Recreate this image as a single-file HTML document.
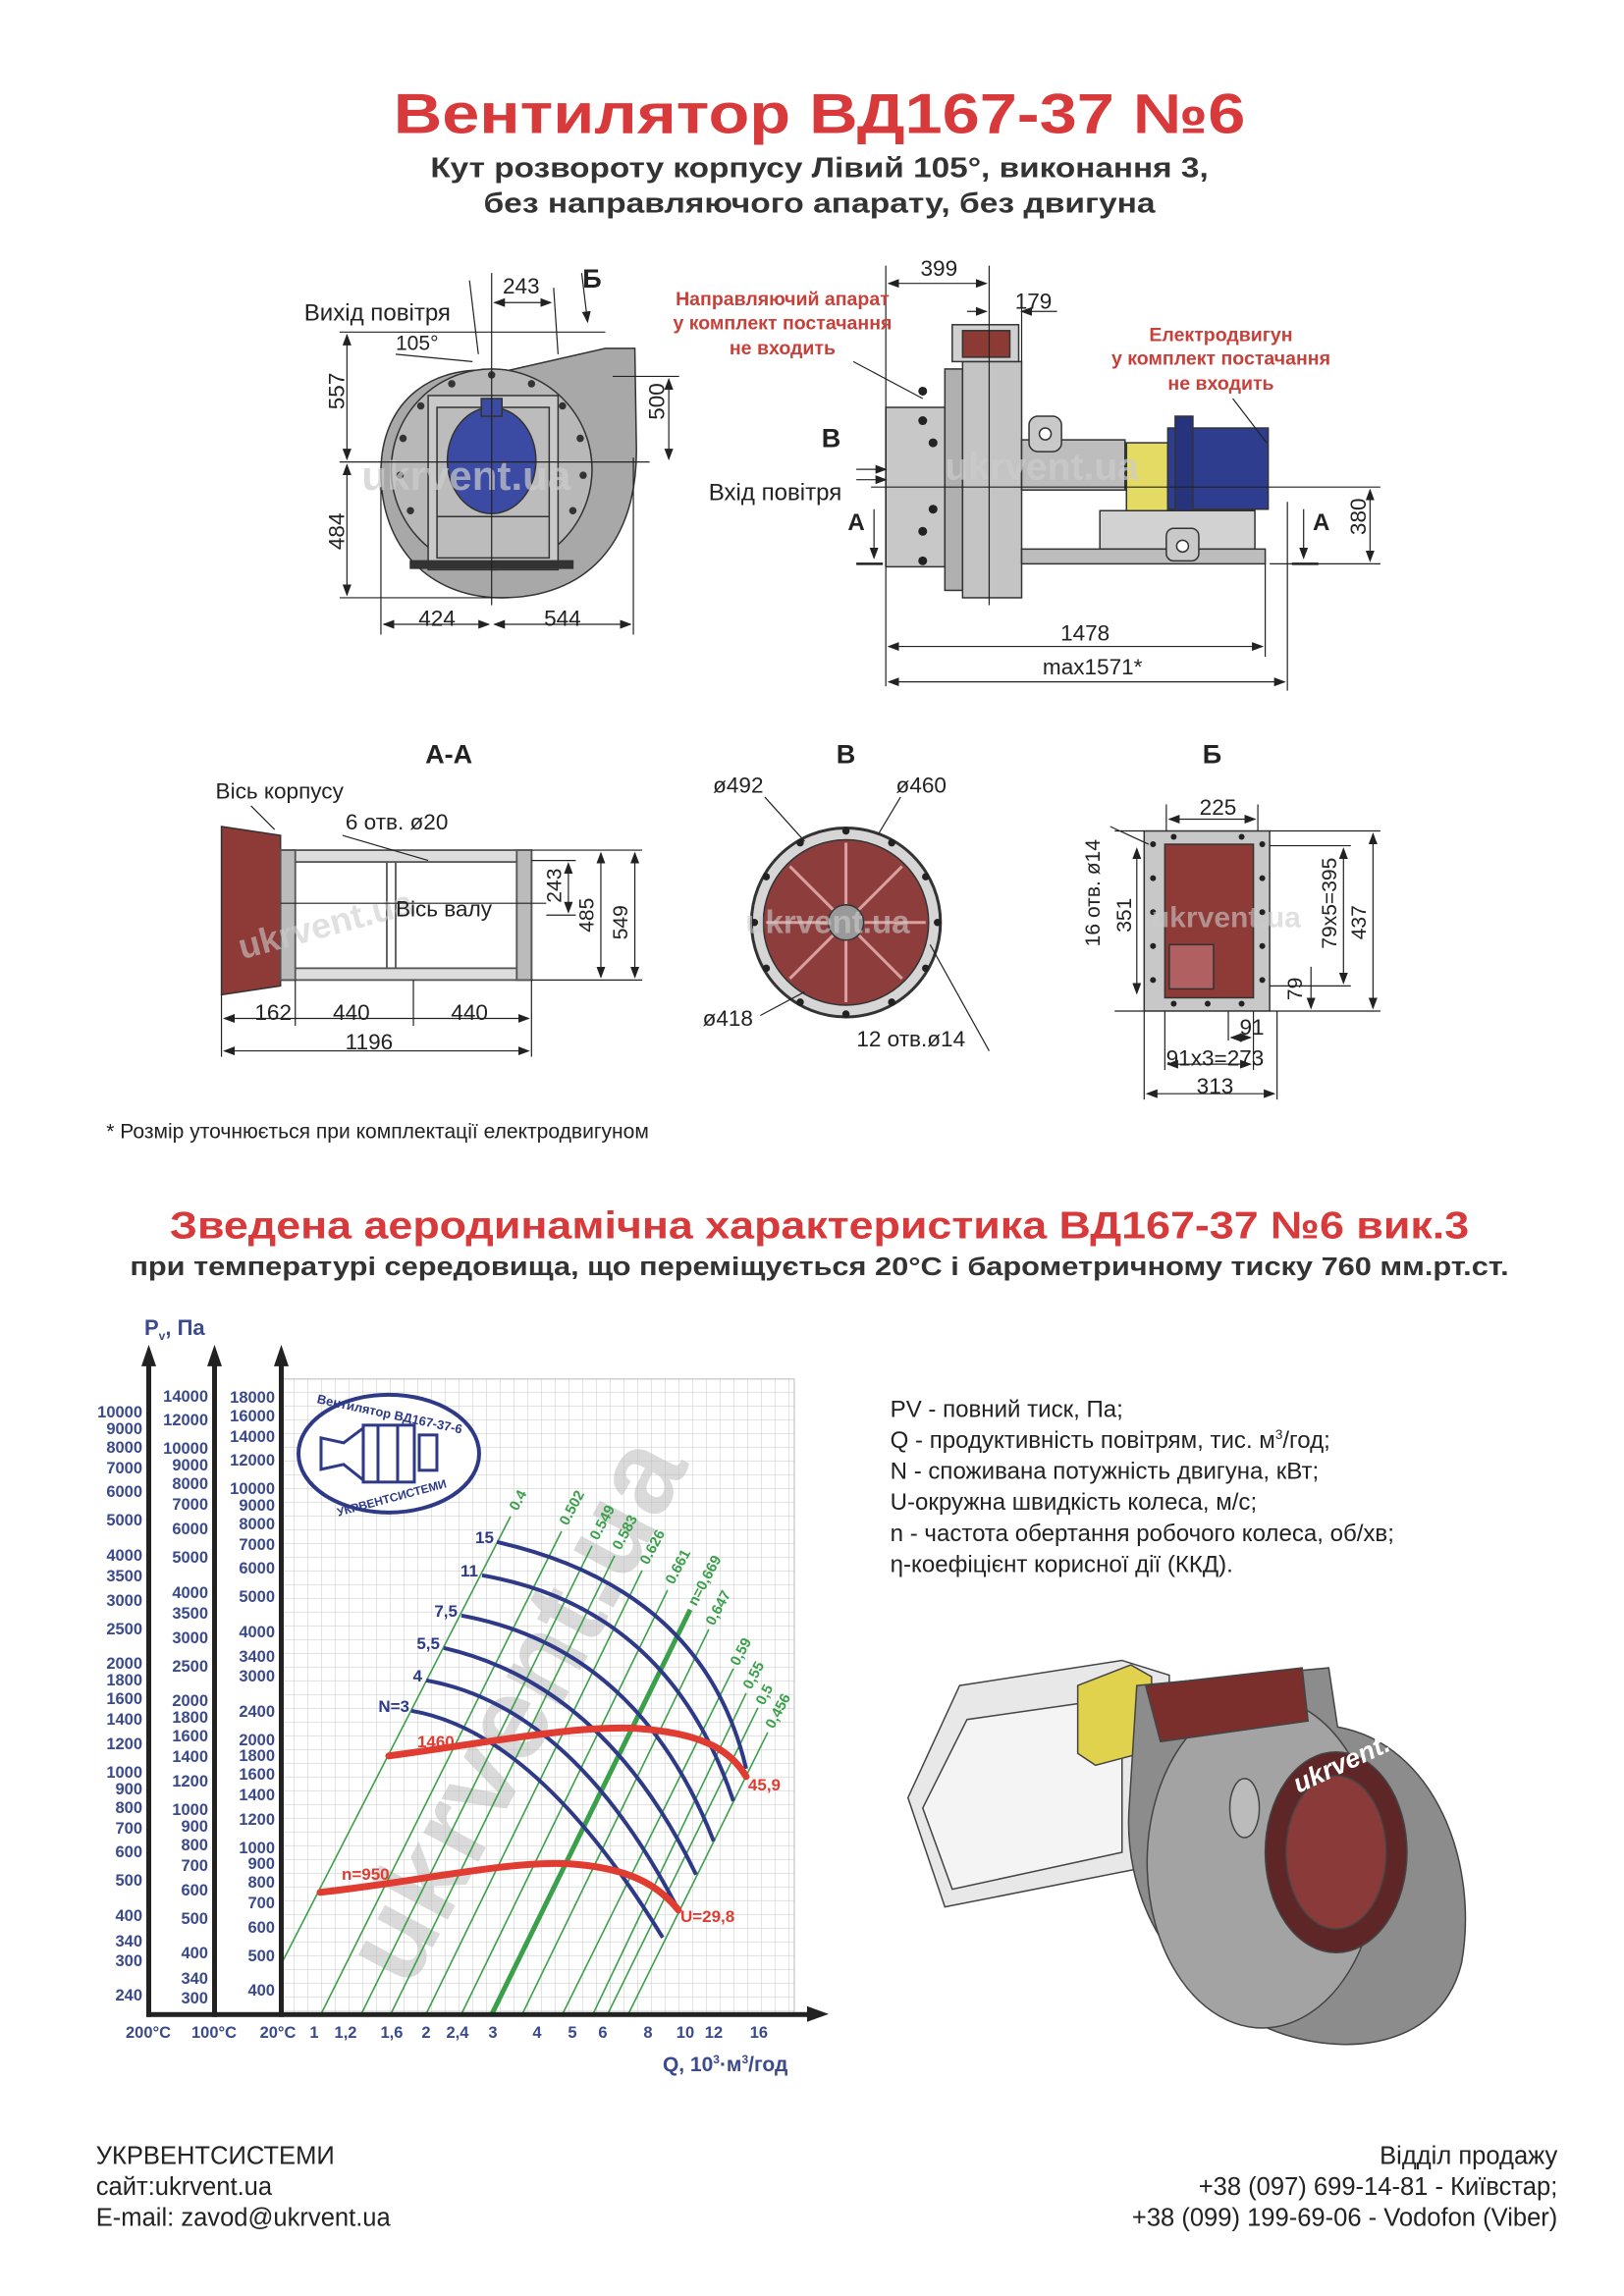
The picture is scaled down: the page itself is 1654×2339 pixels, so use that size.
<!DOCTYPE html>
<html><head><meta charset="utf-8"><style>
html,body{margin:0;padding:0;background:#fff}
svg{display:block}
text{font-family:"Liberation Sans",Arial,sans-serif}
</style></head><body>
<svg width="1654" height="2339" viewBox="0 0 1100 1555.6" xmlns="http://www.w3.org/2000/svg">
<defs>
<marker id="ar" markerWidth="8" markerHeight="6" refX="7" refY="3" orient="auto-start-reverse" markerUnits="userSpaceOnUse"><path d="M0,0 L8,3 L0,6 Z" fill="#222"/></marker>
<pattern id="grid" width="14" height="14" patternUnits="userSpaceOnUse" x="286" y="1405"><path d="M14,0 V14 M0,14 H14" stroke="#cfcfcf" stroke-width="1.2" fill="none"/></pattern>
</defs>

<text x="555" y="90" text-anchor="middle" font-size="38" font-weight="bold" fill="#d8393a" textLength="577" lengthAdjust="spacingAndGlyphs">Вентилятор  ВД167-37 №6</text>
<text x="555" y="120" text-anchor="middle" font-size="19" font-weight="bold" fill="#333" textLength="527" lengthAdjust="spacingAndGlyphs">Кут розвороту корпусу Лівий 105°, виконання 3,</text>
<text x="555" y="144" text-anchor="middle" font-size="19" font-weight="bold" fill="#333" textLength="455" lengthAdjust="spacingAndGlyphs">без направляючого апарату, без двигуна</text>

<g stroke="#333" stroke-width="1">
<path d="M340,252 L410,236 L430,236 L431,300 C 433,370 395,405 340,405 C 290,405 258,370 258,320 C 258,270 295,245 340,252 Z" fill="#a8a8a8"/>
<circle cx="333" cy="318" r="68" fill="#b8b8b8"/>
<rect x="290" y="268" width="88" height="118" fill="#c9c9c9"/>
<rect x="296" y="276" width="76" height="102" fill="#bcbcbc"/>
<ellipse cx="333" cy="312" rx="30" ry="36" fill="#3b4aa3"/>
<rect x="326" y="270" width="14" height="12" fill="#3b4aa3"/>
<rect x="278" y="380" width="110" height="5" fill="#333"/>
<line x1="296" y1="350" x2="372" y2="350"/>
</g>
<g fill="#333">
<circle cx="333" cy="254" r="2.5"/><circle cx="360" cy="260" r="2.5"/><circle cx="381" cy="275" r="2.5"/><circle cx="393" cy="297" r="2.5"/><circle cx="395" cy="322" r="2.5"/><circle cx="388" cy="346" r="2.5"/><circle cx="306" cy="260" r="2.5"/><circle cx="285" cy="275" r="2.5"/><circle cx="273" cy="297" r="2.5"/><circle cx="271" cy="322" r="2.5"/><circle cx="278" cy="346" r="2.5"/>
</g>
<text x="245" y="332" font-size="28" font-weight="bold" fill="#ccc" opacity="0.7">ukrvent.ua</text>
<g stroke="#222" stroke-width="0.8" fill="none">
<line x1="230" y1="313" x2="440" y2="313"/><line x1="333" y1="185" x2="333" y2="410"/>
<line x1="230" y1="225" x2="410" y2="225"/><line x1="230" y1="405" x2="345" y2="405"/>
<line x1="235" y1="227" x2="235" y2="311" marker-start="url(#ar)" marker-end="url(#ar)"/>
<line x1="235" y1="315" x2="235" y2="403" marker-start="url(#ar)" marker-end="url(#ar)"/>
<line x1="258" y1="330" x2="258" y2="430"/><line x1="429" y1="310" x2="429" y2="430"/>
<line x1="260" y1="423" x2="331" y2="423" marker-start="url(#ar)" marker-end="url(#ar)"/>
<line x1="335" y1="423" x2="427" y2="423" marker-start="url(#ar)" marker-end="url(#ar)"/>
<line x1="415" y1="255" x2="460" y2="255"/>
<line x1="453" y1="257" x2="453" y2="311" marker-start="url(#ar)" marker-end="url(#ar)"/>
<line x1="335" y1="205" x2="373" y2="205" marker-start="url(#ar)" marker-end="url(#ar)"/>
<line x1="375" y1="195" x2="378" y2="240"/>
<line x1="394" y1="185" x2="398" y2="218" marker-end="url(#ar)"/>
<line x1="318" y1="190" x2="324" y2="240"/>
<line x1="268" y1="240" x2="320" y2="245"/>
</g>
<text x="206" y="217" font-size="16" fill="#222">Вихід повітря</text>
<text x="268" y="237" font-size="14" fill="#222">105°</text>
<text x="353" y="199" font-size="15" fill="#222" text-anchor="middle">243</text>
<text x="401" y="195" font-size="18" font-weight="bold" fill="#222" text-anchor="middle">Б</text>
<text transform="translate(233,265) rotate(-90)" font-size="15" fill="#222" text-anchor="middle">557</text>
<text transform="translate(233,360) rotate(-90)" font-size="15" fill="#222" text-anchor="middle">484</text>
<text transform="translate(450,272) rotate(-90)" font-size="15" fill="#222" text-anchor="middle">500</text>
<text x="296" y="424" font-size="15" fill="#222" text-anchor="middle">424</text>
<text x="381" y="424" font-size="15" fill="#222" text-anchor="middle">544</text>

<g stroke="#333" stroke-width="1">
<rect x="600" y="276" width="40" height="108" fill="#c8c8c8"/>
<rect x="640" y="250" width="12" height="150" fill="#b0b0b0"/>
<rect x="652" y="245" width="40" height="160" fill="#c4c4c4"/>
<rect x="645" y="220" width="45" height="25" fill="#d0d0d0"/>
<rect x="652" y="224" width="32" height="18" fill="#8b3b34"/>
<rect x="692" y="298" width="70" height="34" fill="#bdbdbd"/>
<rect x="697" y="282" width="22" height="24" rx="6" fill="#c9c9c9"/>
<circle cx="708" cy="294" r="4" fill="#fff"/>
<rect x="763" y="300" width="28" height="46" fill="#e4db64"/>
<rect x="791" y="290" width="68" height="55" fill="#2f3d8f"/>
<rect x="796" y="282" width="12" height="66" fill="#27347d"/>
<rect x="745" y="346" width="105" height="26" fill="#d2d2d2"/>
<rect x="692" y="372" width="165" height="10" fill="#bdbdbd"/>
<rect x="790" y="358" width="22" height="22" rx="5" fill="#c9c9c9"/>
<circle cx="801" cy="370" r="4" fill="#fff"/>
</g>
<g fill="#222"><circle cx="625" cy="265" r="3"/><circle cx="625" cy="285" r="3"/><circle cx="625" cy="360" r="3"/><circle cx="625" cy="380" r="3"/><circle cx="632" cy="300" r="3"/><circle cx="632" cy="345" r="3"/></g>
<text x="640" y="325" font-size="26" font-weight="bold" fill="#ccc" opacity="0.7">ukrvent.ua</text>
<g stroke="#222" stroke-width="0.8" fill="none">
<line x1="590" y1="330" x2="935" y2="330"/>
<line x1="600" y1="180" x2="600" y2="465"/><line x1="670" y1="180" x2="670" y2="410"/>
<line x1="857" y1="382" x2="857" y2="445"/><line x1="872" y1="340" x2="872" y2="468"/>
<line x1="602" y1="192" x2="668" y2="192" marker-start="url(#ar)" marker-end="url(#ar)"/>
<line x1="655" y1="211" x2="668" y2="211" marker-end="url(#ar)"/><line x1="716" y1="211" x2="692" y2="211" marker-end="url(#ar)"/>
<line x1="692" y1="200" x2="692" y2="245"/>
<line x1="602" y1="438" x2="855" y2="438" marker-start="url(#ar)" marker-end="url(#ar)"/>
<line x1="602" y1="462" x2="870" y2="462" marker-start="url(#ar)" marker-end="url(#ar)"/>
<line x1="860" y1="382" x2="935" y2="382"/>
<line x1="928" y1="332" x2="928" y2="380" marker-start="url(#ar)" marker-end="url(#ar)"/>
<line x1="580" y1="318" x2="600" y2="318" marker-end="url(#ar)"/>
<line x1="580" y1="325" x2="600" y2="325" marker-end="url(#ar)"/>
<line x1="592" y1="345" x2="592" y2="378" marker-end="url(#ar)"/>
<line x1="883" y1="345" x2="883" y2="378" marker-end="url(#ar)"/>
<line x1="580" y1="382" x2="598" y2="382" stroke-width="1.6"/><line x1="875" y1="382" x2="893" y2="382" stroke-width="1.6"/>
<line x1="578" y1="245" x2="625" y2="270"/>
<line x1="835" y1="270" x2="858" y2="300"/>
</g>
<text x="636" y="187" font-size="15" fill="#222" text-anchor="middle">399</text>
<text x="700" y="209" font-size="15" fill="#222" text-anchor="middle">179</text>
<text x="530" y="207" font-size="13" font-weight="bold" fill="#c8403a" text-anchor="middle">Направляючий апарат</text>
<text x="530" y="223" font-size="13" font-weight="bold" fill="#c8403a" text-anchor="middle">у комплект постачання</text>
<text x="530" y="240" font-size="13" font-weight="bold" fill="#c8403a" text-anchor="middle">не входить</text>
<text x="827" y="231" font-size="13" font-weight="bold" fill="#c8403a" text-anchor="middle">Електродвигун</text>
<text x="827" y="247" font-size="13" font-weight="bold" fill="#c8403a" text-anchor="middle">у комплект постачання</text>
<text x="827" y="264" font-size="13" font-weight="bold" fill="#c8403a" text-anchor="middle">не входить</text>
<text x="563" y="303" font-size="18" font-weight="bold" fill="#222" text-anchor="middle">В</text>
<text x="480" y="339" font-size="16" fill="#222">Вхід повітря</text>
<text x="580" y="359" font-size="16" font-weight="bold" fill="#222" text-anchor="middle">А</text>
<text x="895" y="359" font-size="16" font-weight="bold" fill="#222" text-anchor="middle">А</text>
<text transform="translate(925,350) rotate(-90)" font-size="15" fill="#222" text-anchor="middle">380</text>
<text x="735" y="434" font-size="15" fill="#222" text-anchor="middle">1478</text>
<text x="740" y="457" font-size="15" fill="#222" text-anchor="middle">max1571*</text>

<text x="304" y="517" font-size="18" font-weight="bold" fill="#222" text-anchor="middle">А-А</text>
<path d="M150,560 L190,566 L190,668 L150,674 Z" fill="#8e3a36" stroke="#333"/>
<g stroke="#555" fill="none" stroke-width="1.2">
<rect x="190" y="576" width="170" height="88" fill="#ddd"/>
<rect x="196" y="584" width="158" height="72" fill="#fff"/>
<line x1="262" y1="584" x2="262" y2="656"/><line x1="268" y1="584" x2="268" y2="656"/>
<rect x="350" y="576" width="10" height="88" fill="#bbb"/>
<rect x="190" y="576" width="10" height="88" fill="#bbb"/>
</g>
<text x="160" y="640" font-size="24" font-weight="bold" fill="#ccc" opacity="0.6" transform="rotate(-15,200,630)">ukrvent.ua</text>
<g stroke="#222" stroke-width="0.8" fill="none">
<line x1="190" y1="612" x2="370" y2="612"/>
<line x1="170" y1="546" x2="186" y2="562"/>
<line x1="232" y1="566" x2="290" y2="583"/>
<line x1="360" y1="583" x2="390" y2="583"/><line x1="360" y1="576" x2="435" y2="576"/><line x1="360" y1="664" x2="435" y2="664"/><line x1="370" y1="620" x2="390" y2="620"/>
<line x1="385" y1="585" x2="385" y2="618" marker-start="url(#ar)" marker-end="url(#ar)"/>
<line x1="407" y1="578" x2="407" y2="662" marker-start="url(#ar)" marker-end="url(#ar)"/>
<line x1="430" y1="578" x2="430" y2="662" marker-start="url(#ar)" marker-end="url(#ar)"/>
<line x1="150" y1="674" x2="150" y2="716"/><line x1="200" y1="664" x2="200" y2="695"/><line x1="280" y1="664" x2="280" y2="695"/><line x1="360" y1="664" x2="360" y2="716"/>
<line x1="152" y1="690" x2="358" y2="690" marker-start="url(#ar)" marker-end="url(#ar)"/>
<line x1="152" y1="712" x2="358" y2="712" marker-start="url(#ar)" marker-end="url(#ar)"/>
</g>
<text x="146" y="541" font-size="15" fill="#222">Вісь корпусу</text>
<text x="234" y="562" font-size="15" fill="#222">6 отв. ø20</text>
<text x="268" y="621" font-size="15" fill="#222">Вісь валу</text>
<text transform="translate(380,600) rotate(-90)" font-size="14" fill="#222" text-anchor="middle">243</text>
<text transform="translate(402,620) rotate(-90)" font-size="14" fill="#222" text-anchor="middle">485</text>
<text transform="translate(425,625) rotate(-90)" font-size="14" fill="#222" text-anchor="middle">549</text>
<text x="185" y="691" font-size="15" fill="#222" text-anchor="middle">162</text>
<text x="238" y="691" font-size="15" fill="#222" text-anchor="middle">440</text>
<text x="318" y="691" font-size="15" fill="#222" text-anchor="middle">440</text>
<text x="250" y="711" font-size="15" fill="#222" text-anchor="middle">1196</text>

<text x="573" y="517" font-size="18" font-weight="bold" fill="#222" text-anchor="middle">В</text>
<circle cx="573" cy="625" r="64" fill="#d6d6d6" stroke="#333" stroke-width="2"/>
<circle cx="573" cy="625" r="56" fill="#8d3e3c" stroke="#333"/>
<g stroke="#d9a0a0" stroke-width="2">
<line x1="573" y1="625" x2="573" y2="571"/><line x1="573" y1="625" x2="611" y2="587"/><line x1="573" y1="625" x2="627" y2="625"/><line x1="573" y1="625" x2="611" y2="663"/><line x1="573" y1="625" x2="573" y2="679"/><line x1="573" y1="625" x2="535" y2="663"/><line x1="573" y1="625" x2="519" y2="625"/><line x1="573" y1="625" x2="535" y2="587"/>
</g>
<circle cx="573" cy="625" r="12" fill="#999" stroke="#333"/>
<g fill="#222"><circle cx="573" cy="563" r="2.5"/><circle cx="604" cy="571" r="2.5"/><circle cx="627" cy="594" r="2.5"/><circle cx="635" cy="625" r="2.5"/><circle cx="627" cy="656" r="2.5"/><circle cx="604" cy="679" r="2.5"/><circle cx="573" cy="687" r="2.5"/><circle cx="542" cy="679" r="2.5"/><circle cx="519" cy="656" r="2.5"/><circle cx="511" cy="625" r="2.5"/><circle cx="519" cy="594" r="2.5"/><circle cx="542" cy="571" r="2.5"/></g>
<text x="505" y="632" font-size="22" font-weight="bold" fill="#ccc" opacity="0.6">ukrvent.ua</text>
<g stroke="#222" stroke-width="0.8"><line x1="518" y1="540" x2="545" y2="570"/><line x1="610" y1="540" x2="595" y2="565"/><line x1="515" y1="688" x2="545" y2="672"/><line x1="670" y1="712" x2="630" y2="640"/></g>
<text x="500" y="537" font-size="15" fill="#222" text-anchor="middle">ø492</text>
<text x="624" y="537" font-size="15" fill="#222" text-anchor="middle">ø460</text>
<text x="493" y="695" font-size="15" fill="#222" text-anchor="middle">ø418</text>
<text x="617" y="709" font-size="15" fill="#222" text-anchor="middle">12 отв.ø14</text>

<text x="821" y="517" font-size="18" font-weight="bold" fill="#222" text-anchor="middle">Б</text>
<rect x="775" y="563" width="85" height="122" fill="#c8c8c8" stroke="#333"/>
<rect x="789" y="572" width="60" height="104" fill="#8e3a36" stroke="#333"/>
<rect x="792" y="640" width="30" height="30" fill="#b06060" stroke="#333"/>
<g fill="#222"><circle cx="781" cy="572" r="2"/><circle cx="781" cy="595" r="2"/><circle cx="781" cy="618" r="2"/><circle cx="781" cy="641" r="2"/><circle cx="781" cy="664" r="2"/><circle cx="855" cy="572" r="2"/><circle cx="855" cy="595" r="2"/><circle cx="855" cy="618" r="2"/><circle cx="855" cy="641" r="2"/><circle cx="855" cy="664" r="2"/><circle cx="795" cy="680" r="2"/><circle cx="818" cy="680" r="2"/><circle cx="841" cy="680" r="2"/><circle cx="795" cy="567" r="2"/><circle cx="841" cy="567" r="2"/></g>
<text x="780" y="628" font-size="20" font-weight="bold" fill="#ccc" opacity="0.6">ukrvent.ua</text>
<g stroke="#222" stroke-width="0.8" fill="none">
<line x1="790" y1="545" x2="790" y2="563"/><line x1="852" y1="545" x2="852" y2="563"/>
<line x1="792" y1="555" x2="850" y2="555" marker-start="url(#ar)" marker-end="url(#ar)"/>
<line x1="752" y1="560" x2="778" y2="572"/>
<line x1="755" y1="563" x2="775" y2="563"/><line x1="755" y1="685" x2="775" y2="685"/>
<line x1="770" y1="575" x2="770" y2="673" marker-start="url(#ar)" marker-end="url(#ar)"/>
<line x1="860" y1="563" x2="935" y2="563"/><line x1="860" y1="573" x2="915" y2="573"/><line x1="860" y1="668" x2="915" y2="668"/><line x1="860" y1="685" x2="935" y2="685"/>
<line x1="910" y1="575" x2="910" y2="666" marker-start="url(#ar)" marker-end="url(#ar)"/>
<line x1="930" y1="565" x2="930" y2="683" marker-start="url(#ar)" marker-end="url(#ar)"/>
<line x1="888" y1="655" x2="888" y2="683" marker-end="url(#ar)"/>
<line x1="775" y1="685" x2="775" y2="745"/><line x1="865" y1="685" x2="865" y2="745"/><line x1="789" y1="685" x2="789" y2="725"/><line x1="849" y1="685" x2="849" y2="725"/><line x1="832" y1="685" x2="832" y2="705"/>
<line x1="834" y1="703" x2="847" y2="703" marker-start="url(#ar)" marker-end="url(#ar)"/>
<line x1="791" y1="721" x2="847" y2="721" marker-start="url(#ar)" marker-end="url(#ar)"/>
<line x1="777" y1="741" x2="863" y2="741" marker-start="url(#ar)" marker-end="url(#ar)"/>
</g>
<text x="825" y="552" font-size="15" fill="#222" text-anchor="middle">225</text>
<text transform="translate(745,605) rotate(-90)" font-size="14" fill="#222" text-anchor="middle">16 отв. ø14</text>
<text transform="translate(766,620) rotate(-90)" font-size="14" fill="#222" text-anchor="middle">351</text>
<text transform="translate(905,612) rotate(-90)" font-size="14" fill="#222" text-anchor="middle">79х5=395</text>
<text transform="translate(925,625) rotate(-90)" font-size="14" fill="#222" text-anchor="middle">437</text>
<text transform="translate(882,670) rotate(-90)" font-size="14" fill="#222" text-anchor="middle">79</text>
<text x="848" y="701" font-size="15" fill="#222" text-anchor="middle">91</text>
<text x="823" y="722" font-size="15" fill="#222" text-anchor="middle">91х3=273</text>
<text x="823" y="741" font-size="15" fill="#222" text-anchor="middle">313</text>

<text x="72" y="771" font-size="14" fill="#222">* Розмір уточнюється при комплектації електродвигуном</text>

<text x="555" y="839" text-anchor="middle" font-size="26" font-weight="bold" fill="#d8393a" textLength="880" lengthAdjust="spacingAndGlyphs">Зведена аеродинамічна характеристика ВД167-37 №6 вик.3</text>
<text x="555" y="864" text-anchor="middle" font-size="17" font-weight="bold" fill="#333" textLength="934" lengthAdjust="spacingAndGlyphs">при температурі середовища, що переміщується 20°С і барометричному тиску 760 мм.рт.ст.</text>

<g font-size="16" fill="#222">
<text x="603" y="960">PV - повний тиск, Па;</text>
<text x="603" y="981">Q - продуктивність повітрям, тис. м<tspan font-size="9" dy="-6">3</tspan><tspan dy="6">/год;</tspan></text>
<text x="603" y="1002">N - споживана потужність двигуна, кВт;</text>
<text x="603" y="1023">U-окружна швидкість колеса, м/с;</text>
<text x="603" y="1044">n - частота обертання робочого колеса, об/хв;</text>
<text x="603" y="1065">η-коефіцієнт корисної дії (ККД).</text>
</g>

<g stroke="#444" stroke-width="1">
<polygon points="615,1218 650,1142 760,1125 792,1135 792,1262 640,1292" fill="#e8e8e8"/>
<polygon points="625,1225 655,1165 760,1150 760,1255 645,1280" fill="#f4f4f4"/>
<polygon points="730,1142 766,1128 780,1136 780,1186 742,1196 730,1188" fill="#e0d24c"/>
<path d="M770,1142 L900,1130 L906,1170 C 972,1182 1002,1262 990,1330 C 975,1392 900,1396 850,1370 C 790,1342 760,1282 765,1222 Z" fill="#8c8c8c"/>
<ellipse cx="855" cy="1262" rx="78" ry="112" fill="#a3a3a3"/>
<polygon points="776,1142 882,1130 886,1166 786,1180" fill="#7a2f2d"/>
<ellipse cx="905" cy="1255" rx="48" ry="68" fill="#5e2626"/>
<ellipse cx="905" cy="1255" rx="34" ry="52" fill="#8a3a38"/>
<ellipse cx="843" cy="1225" rx="10" ry="20" fill="#bbb"/>
</g>
<text x="875" y="1205" font-size="18" font-weight="bold" font-style="italic" fill="#fff" transform="rotate(-25,900,1200)">ukrvent.ua</text>

<g transform="scale(0.665)">
<rect x="286" y="1405" width="523" height="647" fill="url(#grid)"/>
<rect x="286" y="1405" width="523" height="647" fill="none" stroke="#bbb"/>
<text transform="translate(560,1760) rotate(-62)" font-size="120" font-weight="bold" fill="#bdbdbd" opacity="0.55" text-anchor="middle">ukrvent.ua</text>
<ellipse cx="396" cy="1481" rx="92" ry="60" fill="#fff" stroke="#2e3a87" stroke-width="4"/>
<g fill="none" stroke="#2e3a87" stroke-width="3"><path d="M327,1465 L350,1470 L370,1455 L370,1508 L350,1492 L327,1497 Z"/><rect x="370" y="1452" width="52" height="58"/><line x1="385" y1="1452" x2="385" y2="1510"/><line x1="405" y1="1452" x2="405" y2="1510"/><rect x="427" y="1462" width="18" height="36"/></g>
<text x="396" y="1445" font-size="13" font-weight="bold" fill="#2e3a87" text-anchor="middle" transform="rotate(12,396,1445)">Вентилятор ВД167-37-6</text>
<text x="400" y="1530" font-size="12" font-weight="bold" fill="#2e3a87" text-anchor="middle" transform="rotate(-15,400,1530)">УКРВЕНТСИСТЕМИ</text>
<g stroke="#3aa04a" stroke-width="1.6">
<line x1="286" y1="2002" x2="520" y2="1545"/><line x1="327" y1="2052" x2="572" y2="1560"/><line x1="368" y1="2052" x2="603" y2="1575"/><line x1="398" y1="2052" x2="626" y2="1585"/><line x1="434" y1="2052" x2="654" y2="1600"/><line x1="470" y1="2052" x2="680" y2="1620"/><line x1="501" y1="2052" x2="703" y2="1640" stroke-width="5"/><line x1="532" y1="2052" x2="722" y2="1660"/><line x1="573" y1="2052" x2="747" y2="1700"/><line x1="604" y1="2052" x2="760" y2="1725"/><line x1="619" y1="2052" x2="772" y2="1740"/><line x1="640" y1="2052" x2="782" y2="1765"/>
</g>
<g font-size="15" font-weight="bold" fill="#3aa04a">
<text transform="translate(527,1540) rotate(-62)">0.4</text>
<text transform="translate(578,1555) rotate(-62)">0.502</text>
<text transform="translate(609,1570) rotate(-62)">0.549</text>
<text transform="translate(632,1580) rotate(-62)">0.583</text>
<text transform="translate(660,1595) rotate(-62)">0.626</text>
<text transform="translate(686,1615) rotate(-62)">0.661</text>
<text transform="translate(709,1637) rotate(-62)">n=0,669</text>
<text transform="translate(727,1657) rotate(-62)">0,647</text>
<text transform="translate(752,1698) rotate(-62)">0,59</text>
<text transform="translate(765,1722) rotate(-62)">0,55</text>
<text transform="translate(778,1738) rotate(-62)">0,5</text>
<text transform="translate(788,1762) rotate(-62)">0,456</text>
</g>
<g stroke="#2e3a87" stroke-width="4" fill="none">
<path d="M506,1571 Q717,1619 760,1802"/>
<path d="M491,1605 Q681,1638 747,1835"/>
<path d="M470,1646 Q650,1679 727,1876"/>
<path d="M452,1679 Q616,1717 709,1910"/>
<path d="M434,1712 Q584,1739 691,1946"/>
<path d="M419,1743 Q547,1765 675,1974"/>
</g>
<g font-size="17" font-weight="bold" fill="#2e3a87" text-anchor="end">
<text x="503" y="1572">15</text><text x="487" y="1606">11</text><text x="466" y="1647">7,5</text><text x="448" y="1680">5,5</text><text x="430" y="1713">4</text><text x="417" y="1744">N=3</text>
</g>
<g stroke="#e03c31" stroke-width="7" fill="none" stroke-linecap="round">
<path d="M396,1789 C500,1775 600,1755 660,1762 C720,1768 745,1785 760,1810"/>
<path d="M326,1928 C420,1918 520,1895 580,1899 C640,1903 670,1920 691,1946"/>
</g>
<g font-size="17" font-weight="bold" fill="#e03c31">
<text x="425" y="1780">1460</text><text x="348" y="1915">n=950</text><text x="762" y="1824">45,9</text><text x="693" y="1958">U=29,8</text>
</g>
<g fill="#222">
<rect x="149" y="1385" width="5" height="670"/><rect x="216" y="1385" width="5" height="670"/><rect x="284" y="1385" width="5" height="670"/>
<polygon points="151.5,1370 144,1392 159,1392"/><polygon points="218.5,1370 211,1392 226,1392"/><polygon points="286.5,1370 279,1392 294,1392"/>
<rect x="149" y="2050" width="685" height="5"/><polygon points="844,2052 822,2044 822,2060"/>
</g>
<text x="147" y="1360" font-size="22" font-weight="bold" fill="#3a4a8a">P<tspan font-size="12" dy="5">v</tspan><tspan dy="-5">, Па</tspan></text>
<g font-size="16.5" font-weight="bold" fill="#3a4a8a" text-anchor="end">
<text x="145" y="1444">10000</text><text x="145" y="1461">9000</text><text x="145" y="1480">8000</text><text x="145" y="1501">7000</text><text x="145" y="1525">6000</text><text x="145" y="1554">5000</text><text x="145" y="1590">4000</text><text x="145" y="1611">3500</text><text x="145" y="1636">3000</text><text x="145" y="1665">2500</text><text x="145" y="1700">2000</text><text x="145" y="1717">1800</text><text x="145" y="1736">1600</text><text x="145" y="1757">1400</text><text x="145" y="1782">1200</text><text x="145" y="1811">1000</text><text x="145" y="1828">900</text><text x="145" y="1847">800</text><text x="145" y="1868">700</text><text x="145" y="1892">600</text><text x="145" y="1921">500</text><text x="145" y="1957">400</text><text x="145" y="1983">340</text><text x="145" y="2003">300</text><text x="145" y="2038">240</text>
<text x="212" y="1428">14000</text><text x="212" y="1452">12000</text><text x="212" y="1481">10000</text><text x="212" y="1498">9000</text><text x="212" y="1517">8000</text><text x="212" y="1538">7000</text><text x="212" y="1563">6000</text><text x="212" y="1592">5000</text><text x="212" y="1628">4000</text><text x="212" y="1649">3500</text><text x="212" y="1674">3000</text><text x="212" y="1703">2500</text><text x="212" y="1738">2000</text><text x="212" y="1755">1800</text><text x="212" y="1774">1600</text><text x="212" y="1795">1400</text><text x="212" y="1820">1200</text><text x="212" y="1849">1000</text><text x="212" y="1866">900</text><text x="212" y="1885">800</text><text x="212" y="1906">700</text><text x="212" y="1931">600</text><text x="212" y="1960">500</text><text x="212" y="1995">400</text><text x="212" y="2021">340</text><text x="212" y="2041">300</text>
<text x="280" y="1429">18000</text><text x="280" y="1448">16000</text><text x="280" y="1469">14000</text><text x="280" y="1493">12000</text><text x="280" y="1522">10000</text><text x="280" y="1539">9000</text><text x="280" y="1558">8000</text><text x="280" y="1579">7000</text><text x="280" y="1603">6000</text><text x="280" y="1632">5000</text><text x="280" y="1668">4000</text><text x="280" y="1693">3400</text><text x="280" y="1713">3000</text><text x="280" y="1749">2400</text><text x="280" y="1778">2000</text><text x="280" y="1794">1800</text><text x="280" y="1813">1600</text><text x="280" y="1834">1400</text><text x="280" y="1859">1200</text><text x="280" y="1888">1000</text><text x="280" y="1904">900</text><text x="280" y="1923">800</text><text x="280" y="1944">700</text><text x="280" y="1969">600</text><text x="280" y="1998">500</text><text x="280" y="2033">400</text>
</g>
<g font-size="16.5" font-weight="bold" fill="#3a4a8a" text-anchor="middle">
<text x="151" y="2076">200°C</text><text x="218" y="2076">100°C</text><text x="283" y="2076">20°C</text>
<text x="320" y="2076">1</text><text x="352" y="2076">1,2</text><text x="399" y="2076">1,6</text><text x="434" y="2076">2</text><text x="466" y="2076">2,4</text><text x="502" y="2076">3</text><text x="547" y="2076">4</text><text x="583" y="2076">5</text><text x="614" y="2076">6</text><text x="660" y="2076">8</text><text x="698" y="2076">10</text><text x="727" y="2076">12</text><text x="773" y="2076">16</text>
</g>
<text x="675" y="2110" font-size="21" font-weight="bold" fill="#3a4a8a">Q, 10<tspan font-size="12" dy="-8">3</tspan><tspan dy="8">·м</tspan><tspan font-size="12" dy="-8">3</tspan><tspan dy="8">/год</tspan></text>
</g>

<g font-size="17" fill="#222">
<text x="65" y="1466">УКРВЕНТСИСТЕМИ</text>
<text x="65" y="1487">сайт:ukrvent.ua</text>
<text x="65" y="1508">E-mail: zavod@ukrvent.ua</text>
<text x="1055" y="1466" text-anchor="end">Відділ продажу</text>
<text x="1055" y="1487" text-anchor="end">+38 (097) 699-14-81 - Київстар;</text>
<text x="1055" y="1508" text-anchor="end">+38 (099) 199-69-06 - Vodofon (Viber)</text>
</g>
</svg>
</body></html>
